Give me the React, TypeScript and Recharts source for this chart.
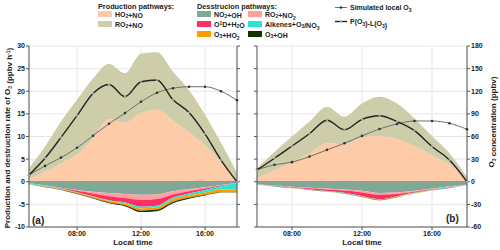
import { ComposedChart, Area, Line, XAxis, YAxis, CartesianGrid, ReferenceLine } from 'recharts'

// panel (a): 05:00 - 18:00
const hoursA = [5, 6, 7, 8, 9, 10, 11, 12, 13, 14, 15, 16, 17, 18]
const ho2NoA = [0.5, 2.2, 4.0, 6.0, 9.5, 13.8, 13.0, 15.2, 15.9, 13.5, 11.0, 8.0, 4.5, 0.5]
const ro2NoA = [2.5, 5.6, 9.3, 12.1, 13.3, 12.3, 11.0, 13.1, 12.7, 10.8, 9.3, 6.8, 4.1, 1.5]
const no2OhA = [0.3, 0.8, 1.3, 1.8, 2.2, 2.5, 2.7, 2.9, 2.8, 2.1, 1.6, 1.2, 0.7, 0.2]
const ro2No2A = [0, 0.05, 0.1, 0.2, 0.4, 0.7, 0.9, 1.1, 1.0, 0.7, 0.5, 0.3, 0.15, 0]
const o1dH2oA = [0, 0.05, 0.1, 0.3, 0.6, 0.9, 1.0, 1.5, 1.5, 0.7, 0.5, 0.3, 0.15, 0]
const alkenesA = [0.2, 0.15, 0.1, 0.1, 0.1, 0.15, 0.2, 0.4, 0.35, 0.35, 0.45, 0.6, 0.7, 1.5]
const o3Ho2A = [0.05, 0.1, 0.15, 0.2, 0.3, 0.35, 0.4, 0.5, 0.5, 0.6, 0.5, 0.5, 0.6, 0.6]
const o3OhA = [0.02, 0.05, 0.05, 0.1, 0.1, 0.15, 0.2, 0.3, 0.35, 0.3, 0.2, 0.15, 0.1, 0.05]
const netA = [1.5, 5.2, 9.8, 14.6, 19.5, 21.5, 18.8, 22.1, 22.5, 18.1, 15.3, 10.6, 4.8, 0]
const o3A = [9, 21, 32, 45, 61, 77, 91, 106, 118, 124, 126, 126, 120, 108]

// panel (b): 06:00 - 18:00
const hoursB = [6, 7, 8, 9, 10, 11, 12, 13, 14, 15, 16, 17, 18]
const ho2NoB = [0.8, 2.5, 4.3, 6.2, 8.5, 8.3, 9.8, 10.1, 9.4, 7.9, 5.8, 3.8, 0.5]
const ro2NoB = [2.2, 4.1, 5.7, 7.1, 8.1, 6.1, 7.5, 8.7, 7.9, 6.1, 4.3, 2.5, 0.5]
const no2OhB = [0.5, 0.8, 1.1, 1.3, 1.5, 1.7, 2.0, 2.5, 2.4, 2.0, 1.5, 1.0, 0.5]
const ro2No2B = [0.02, 0.05, 0.1, 0.15, 0.2, 0.25, 0.35, 0.35, 0.3, 0.2, 0.15, 0.1, 0.02]
const o1dH2oB = [0.02, 0.05, 0.1, 0.2, 0.35, 0.5, 0.8, 1.0, 0.5, 0.2, 0.1, 0.05, 0.02]
const alkenesB = [0.1, 0.08, 0.08, 0.08, 0.08, 0.08, 0.08, 0.08, 0.08, 0.1, 0.12, 0.15, 0.2]
const o3Ho2B = [0.02, 0.03, 0.05, 0.05, 0.06, 0.07, 0.08, 0.1, 0.08, 0.07, 0.06, 0.05, 0.03]
const o3OhB = [0.01, 0.02, 0.02, 0.03, 0.03, 0.04, 0.05, 0.05, 0.04, 0.03, 0.02, 0.02, 0.01]
const netB = [2.6, 5.2, 7.9, 10.6, 13.6, 11.5, 13.8, 14.6, 13.3, 11.3, 7.8, 4.8, 0]
const o3B = [16, 22.5, 26, 33.4, 42.3, 51, 60.8, 70, 76.6, 80.6, 80.6, 77.5, 69.6]

const timeTicks = [8, 12, 16]
const rateTicks = [-10, -5, 0, 5, 10, 15, 20, 25, 30]
const concTicks = [-60, -30, 0, 30, 60, 90, 120, 150, 180]

const COLORS = {
  ho2No: '#FECBA8',
  ro2No: '#CDCDAA',
  no2Oh: '#80A896',
  o1dH2o: '#FF2E63',
  ro2No2: '#FFA0A0',
  alkenes: '#2FE3D3',
  o3Ho2: '#FF9A00',
  o3Oh: '#163000',
}

const FONT = '"Liberation Sans", Arial, sans-serif'
const tickStyle = { fontSize: 7, fontWeight: 700, fill: '#222', fontFamily: FONT }
const fmtTime = (h: number) => `${String(h).padStart(2, '0')}:00`
const blank = () => ''

function buildRows(hours: number[], p1: number[], p2: number[], d: number[][], net: number[], o3: number[]) {
  return hours.map((h, i) => ({
    h,
    ho2No: p1[i],
    ro2No: p2[i],
    no2Oh: -d[0][i],
    ro2No2: -d[1][i],
    o1dH2o: -d[2][i],
    alkenes: -d[3][i],
    o3Ho2: -d[4][i],
    o3Oh: -d[5][i],
    net: net[i],
    o3: o3[i],
  }))
}

const rowsA = buildRows(hoursA, ho2NoA, ro2NoA, [no2OhA, ro2No2A, o1dH2oA, alkenesA, o3Ho2A, o3OhA], netA, o3A)
const rowsB = buildRows(hoursB, ho2NoB, ro2NoB, [no2OhB, ro2No2B, o1dH2oB, alkenesB, o3Ho2B, o3OhB], netB, o3B)

const prodKeys = ['ho2No', 'ro2No'] as const
const destKeys = ['no2Oh', 'ro2No2', 'o1dH2o', 'alkenes', 'o3Ho2', 'o3Oh'] as const

function Panel({ rows, domain, leftLabels, rightLabels, width, leftW, rightW }: any) {
  const axisColor = '#555'
  return (
    <ComposedChart width={width} height={250} data={rows} margin={{ top: 46, right: 0, bottom: 0, left: 0 }}>
      <CartesianGrid stroke="#e6e6e6" />
      <XAxis dataKey="h" type="number" domain={domain} ticks={timeTicks} tickFormatter={fmtTime}
        height={23} tick={tickStyle} tickSize={3} tickMargin={1} stroke={axisColor} interval={0} />
      <XAxis xAxisId="top" orientation="top" dataKey="h" type="number" domain={domain} ticks={timeTicks}
        tickFormatter={blank} height={0} tickSize={3} mirror stroke={axisColor} />
      <YAxis type="number" domain={[-10, 30]} ticks={rateTicks} width={leftW} tick={tickStyle}
        tickFormatter={leftLabels ? undefined : blank} tickSize={3} tickMargin={1} stroke={axisColor} interval={0} />
      <YAxis yAxisId="r" orientation="right" type="number" domain={[-60, 180]} ticks={concTicks} width={rightW}
        tick={tickStyle} tickFormatter={rightLabels ? undefined : blank} tickSize={3} tickMargin={1}
        stroke={axisColor} interval={0} />
      {prodKeys.map(k => (
        <Area key={k} dataKey={k} stackId="prod" type="monotone" stroke="none" fill={COLORS[k]}
          fillOpacity={1} isAnimationActive={false} />
      ))}
      {destKeys.map(k => (
        <Area key={k} dataKey={k} stackId="dest" type="monotone" stroke="none" fill={COLORS[k]}
          fillOpacity={1} isAnimationActive={false} />
      ))}
      <ReferenceLine y={0} stroke="#8a8a8a" strokeWidth={1} />
      <Line dataKey="o3" yAxisId="r" type="monotone" stroke="#707070" strokeWidth={1}
        dot={{ r: 1.3, fill: '#333', stroke: 'none' }} isAnimationActive={false} />
      <Line dataKey="net" type="monotone" stroke="#222" strokeWidth={1.4}
        dot={{ r: 1.1, fill: '#aaa', stroke: 'none' }} isAnimationActive={false} />
    </ComposedChart>
  )
}

function Sub({ children }: { children: string }) {
  return (
    <>
      <tspan dy={1.8} fontSize={5}>{children}</tspan>
      <tspan dy={-1.8}>{''}</tspan>
    </>
  )
}

function Swatch({ x, y, color, children }: any) {
  return (
    <g>
      <rect x={x} y={y} width={14} height={6} fill={color} />
      <text x={x + 17} y={y + 5.5}>{children}</text>
    </g>
  )
}

export default function App() {
  return (
    <div style={{ position: 'absolute', left: 0, top: 0, width: 500, height: 250, background: '#fff' }}>
      <div style={{ position: 'absolute', left: 0, top: 0 }}>
        <Panel rows={rowsA} domain={[5, 18]} leftLabels rightLabels={false} width={245} leftW={29} rightW={8} />
      </div>
      <div style={{ position: 'absolute', left: 250, top: 0 }}>
        <Panel rows={rowsB} domain={[6, 18]} leftLabels={false} rightLabels width={250} leftW={7} rightW={33} />
      </div>
      <svg width={500} height={250} style={{ position: 'absolute', left: 0, top: 0, pointerEvents: 'none' }}
        fontFamily={FONT} fontWeight={700} fontSize={7} fill="#222">
        <text x={98} y={9} fontSize={7.3}>Production pathways:</text>
        <Swatch x={98} y={11} color={COLORS.ho2No}>HO<Sub>2</Sub>+NO</Swatch>
        <Swatch x={98} y={21} color={COLORS.ro2No}>RO<Sub>2</Sub>+NO</Swatch>

        <text x={197} y={9} fontSize={7.3}>Desstrucion pathways:</text>
        <Swatch x={197} y={11} color={COLORS.no2Oh}>NO<Sub>2</Sub>+OH</Swatch>
        <Swatch x={197} y={21} color={COLORS.o1dH2o}>O<tspan dy={-2} fontSize={5}>1</tspan><tspan dy={2}>D+H</tspan><Sub>2</Sub>O</Swatch>
        <Swatch x={197} y={31} color={COLORS.o3Ho2}>O<Sub>3</Sub>+HO<Sub>2</Sub></Swatch>
        <Swatch x={248} y={11} color={COLORS.ro2No2}>RO<Sub>2</Sub>+NO<Sub>2</Sub></Swatch>
        <Swatch x={248} y={21} color={COLORS.alkenes}>Alkenes+O<Sub>3</Sub>/NO<Sub>3</Sub></Swatch>
        <Swatch x={248} y={31} color={COLORS.o3Oh}>O<Sub>3</Sub>+OH</Swatch>

        <line x1={335} x2={347} y1={7.5} y2={7.5} stroke="#707070" strokeWidth={1} />
        <circle cx={341} cy={7.5} r={1.3} fill="#333" />
        <text x={350} y={10}>Simulated local O<Sub>3</Sub></text>
        <line x1={335} x2={347} y1={21.5} y2={21.5} stroke="#222" strokeWidth={1.4} />
        <circle cx={341} cy={21.5} r={1.1} fill="#aaa" />
        <text x={350} y={24}>P(O<Sub>3</Sub>)-L(O<Sub>3</Sub>)</text>

        <text transform="translate(10,138) rotate(-90)" textAnchor="middle" fontSize={8}>
          Production and destruction rate of O<Sub>3</Sub> (ppbv h<tspan dy={-2} fontSize={5}>-1</tspan><tspan dy={2}>)</tspan>
        </text>
        <text transform="translate(494,122) rotate(-90)" textAnchor="middle" fontSize={8}>
          O<Sub>3</Sub> concentration (ppbv)
        </text>

        <text x={133} y={245} textAnchor="middle" fontSize={8}>Local time</text>
        <text x={362} y={245} textAnchor="middle" fontSize={8}>Local time</text>

        <text x={32} y={224} fontSize={10}>(a)</text>
        <text x={446} y={222} fontSize={10}>(b)</text>
      </svg>
    </div>
  )
}
